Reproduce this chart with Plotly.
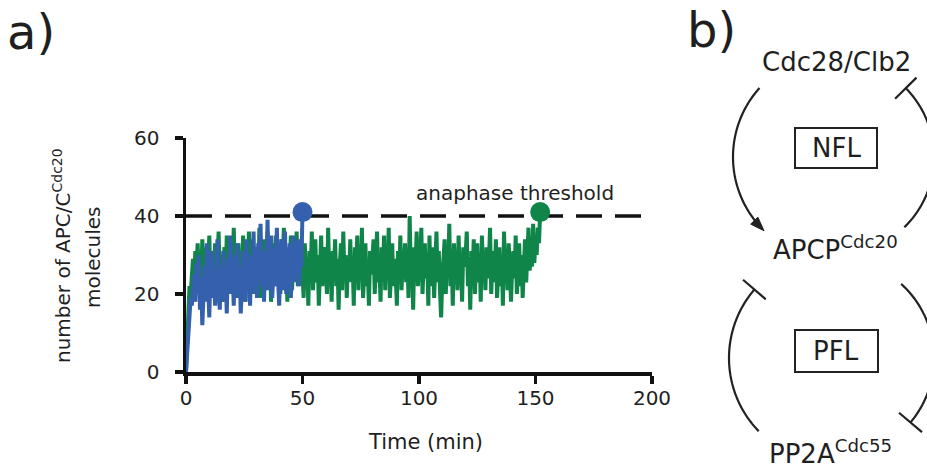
import numpy as np
import plotly.graph_objects as go

W, H = 927, 472
FONT = "DejaVu Sans"
TXT = "#1f1f1f"

# ---------------- data ----------------
dt = 0.5  # sampling step (min)
blue_values = [
    0, 6, 12, 15, 19, 17, 22, 25, 18, 28, 21, 30, 16, 24, 12, 20, 27, 18, 33, 22,
    14, 26, 31, 19, 24, 17, 29, 34, 21, 16, 27, 22, 31, 18, 25, 15, 29, 23, 35, 20,
    26, 17, 30, 24, 33, 19, 27, 15, 22, 31, 26, 18, 34, 21, 28, 17, 30, 24, 36, 20,
    27, 19, 33, 25, 38, 22, 29, 18, 31, 24, 39, 21, 28, 35, 19, 26, 32, 22, 37, 24,
    17, 29, 34, 21, 27, 36, 20, 30, 25, 33, 19, 28, 35, 23, 31, 26, 34, 22, 29, 27,
    41,
]
green_values = [
    0, 10, 18, 22, 20, 26, 29, 24, 31, 27, 33, 25, 30, 22, 34, 28, 24, 32, 20, 27,
    35, 23, 29, 19, 26, 33, 21, 28, 36, 24, 30, 18, 27, 32, 22, 35, 25, 29, 20, 31,
    26, 37, 23, 28, 19, 33, 25, 30, 21, 35, 27, 18, 31, 24, 36, 22, 29, 34, 20, 30,
    28, 32, 23, 37, 19, 30, 26, 34, 21, 29, 36, 24, 31, 18, 27, 33, 22, 35, 25, 31,
    30, 20, 34, 27, 37, 23, 29, 18, 32, 26, 35, 21, 28, 33, 24, 36, 22, 30, 27, 34,
    25, 19, 33, 24, 29, 17, 31, 25, 36, 21, 28, 34, 23, 30, 17, 27, 35, 22, 29, 32,
    26, 20, 37, 24, 28, 18, 31, 26, 34, 22, 29, 16, 27, 33, 21, 36, 25, 30, 19, 28,
    24, 34, 23, 29, 17, 32, 26, 35, 21, 30, 24, 37, 19, 28, 33, 22, 27, 17, 31, 25,
    30, 34, 20, 29, 36, 23, 27, 18, 32, 25, 35, 21, 30, 26, 37, 19, 28, 33, 22, 29,
    25, 17, 31, 24, 35, 21, 28, 26, 33, 23, 30, 19, 40, 25, 29, 16, 32, 27, 36, 22,
    26, 29, 37, 20, 27, 33, 24, 30, 17, 35, 22, 28, 32, 19, 26, 36, 23, 31, 21, 14,
    24, 28, 34, 20, 30, 25, 38, 22, 29, 17, 33, 26, 31, 21, 35, 24, 28, 18, 32, 27,
    30, 36, 22, 29, 16, 31, 25, 34, 20, 28, 33, 23, 30, 18, 35, 26, 29, 21, 32, 24,
    28, 37, 20, 28, 31, 23, 34, 19, 27, 32, 22, 30, 17, 36, 25, 29, 21, 33, 26, 18,
    27, 31, 24, 35, 20, 28, 33, 22, 30, 19, 27, 34, 23, 29, 37, 26, 31, 27, 38, 28,
    34, 30, 37, 33, 41,
]
blue_time = [i * dt for i in range(len(blue_values))]
green_time = [i * dt for i in range(len(green_values))]
threshold = 40
threshold_x = [0, 200]
x_ticks = [0, 50, 100, 150, 200]
y_ticks = [0, 20, 40, 60]

BLUE = "#3460ad"
GREEN = "#10854a"


def px(x):
    return x / W


def py(y):
    return 1 - y / H


fig = go.Figure()
fig.add_trace(go.Scatter(x=threshold_x, y=[threshold, threshold], mode="lines",
                         line=dict(color="#111111", width=3.5, dash="26px,13px"),
                         hoverinfo="skip"))
fig.add_trace(go.Scatter(x=green_time, y=green_values, mode="lines",
                         line=dict(color=GREEN, width=4)))
fig.add_trace(go.Scatter(x=blue_time, y=blue_values, mode="lines",
                         line=dict(color=BLUE, width=4)))
fig.add_trace(go.Scatter(x=[green_time[-1]], y=[green_values[-1]], mode="markers",
                         marker=dict(color=GREEN, size=20)))
fig.add_trace(go.Scatter(x=[blue_time[-1]], y=[blue_values[-1]], mode="markers",
                         marker=dict(color=BLUE, size=20)))

axis_common = dict(showgrid=False, zeroline=False, showline=True, linewidth=3.5,
                   linecolor="#111111", ticks="outside", ticklen=8, tickwidth=3.5,
                   tickcolor="#111111", automargin=False,
                   tickfont=dict(family=FONT, size=20, color=TXT))
fig.update_xaxes(range=[0, 200], tickvals=x_ticks, domain=[px(186), px(652)],
                 ticklabelstandoff=-3, **axis_common)
fig.update_yaxes(range=[0, 60], tickvals=y_ticks, domain=[py(372), py(138)],
                 ticklabelstandoff=11, **axis_common)

# ---------------- panel b diagram ----------------
shapes = []
LC = "#222222"
LW = 2.2


def arc_pts(cx, cy, r, a0, a1, n=80):
    a = np.radians(np.linspace(a0, a1, n))
    return cx + r * np.cos(a), cy + r * np.sin(a)


def path_from(xs, ys, close=False):
    s = "M " + " L ".join(f"{px(x):.5f},{py(y):.5f}" for x, y in zip(xs, ys))
    return s + (" Z" if close else "")


def add_arc(cx, cy, r, a0, a1):
    xs, ys = arc_pts(cx, cy, r, a0, a1)
    shapes.append(dict(type="path", xref="paper", yref="paper", path=path_from(xs, ys),
                       line=dict(color=LC, width=LW)))
    return xs, ys


def add_tbar(cx, cy, r, ang, half=15):
    a = np.radians(ang)
    ex, ey = cx + r * np.cos(a), cy + r * np.sin(a)
    ux, uy = np.cos(a), np.sin(a)
    shapes.append(dict(type="line", xref="paper", yref="paper",
                       x0=px(ex - half * ux), y0=py(ey - half * uy),
                       x1=px(ex + half * ux), y1=py(ey + half * uy),
                       line=dict(color=LC, width=LW)))


# top loop (NFL)
c1 = (836, 157)
add_arc(c1[0], c1[1], 103, 222, 138)
a = np.radians(136)
ex, ey = c1[0] + 103 * np.cos(a), c1[1] + 103 * np.sin(a)
d = np.array([np.sin(a), -np.cos(a)])
nrm = np.array([-d[1], d[0]])
tip = np.array([ex, ey]) + 3 * d
base = np.array([ex, ey]) - 11 * d
p1 = base + 5 * nrm
p2 = base - 5 * nrm
shapes.append(dict(type="path", xref="paper", yref="paper",
                   path=path_from([tip[0], p1[0], p2[0]], [tip[1], p1[1], p2[1]], close=True),
                   fillcolor=LC, line=dict(color=LC, width=1)))
add_arc(c1[0], c1[1], 98, -44.6, 45.8)
add_tbar(c1[0], c1[1], 98, -44.6)

# bottom loop (PFL)
c2 = (834, 358)
add_arc(c2[0], c2[1], 105, 220.7, 135.8)
add_tbar(c2[0], c2[1], 105, 220.7)
add_arc(c2[0], c2[1], 100, -47.8, 40.1)
add_tbar(c2[0], c2[1], 100, 40.1)

# boxes
for (x0, y0, x1, y1) in [(795, 128, 877, 168), (795, 330, 878, 372)]:
    shapes.append(dict(type="rect", xref="paper", yref="paper",
                       x0=px(x0), y0=py(y1), x1=px(x1), y1=py(y0),
                       line=dict(color=LC, width=2)))

fig.update_layout(shapes=shapes)


def ann(text, x, y, size, xanchor="center", yanchor="middle", angle=0):
    fig.add_annotation(text=text, x=px(x), y=py(y), xref="paper", yref="paper",
                       showarrow=False, xanchor=xanchor, yanchor=yanchor,
                       textangle=angle,
                       font=dict(family=FONT, size=size, color=TXT))


ann("a)", 31, 32, 48)
ann("b)", 711, 30, 48)
ann("number of APC/C<sup>Cdc20</sup>", 62, 256, 20, angle=-90)
ann("molecules", 93, 257, 20, angle=-90)
ann("Time (min)", 425, 442, 21)
ann("anaphase threshold", 515, 193, 20)
ann("Cdc28/Clb2", 836, 62, 26)
ann("NFL", 836, 148, 26)
ann("PFL", 836, 351, 26)
ann("APCP<sup>Cdc20</sup>", 835, 248, 26)
ann("PP2A<sup>Cdc55</sup>", 830, 452, 26)

fig.update_layout(width=W, height=H, margin=dict(l=0, r=0, t=0, b=0),
                  paper_bgcolor="white", plot_bgcolor="white", showlegend=False,
                  hovermode=False)
fig.write_html("out.html", config={"displayModeBar": False, "staticPlot": True},
               post_script="document.body.style.margin='0px';document.body.style.overflow='hidden';")
